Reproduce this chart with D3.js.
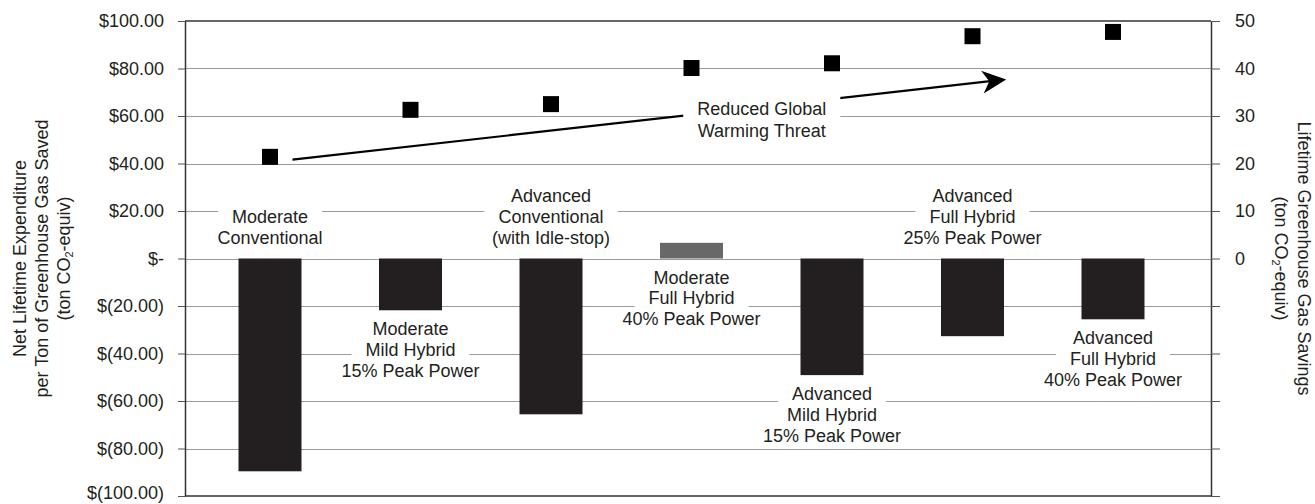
<!DOCTYPE html>
<html>
<head>
<meta charset="utf-8">
<script src="https://cdn.jsdelivr.net/npm/d3@7"></script>
<style>
  html, body { margin: 0; padding: 0; background: #fff; }
  svg { display: block; font-family: "Liberation Sans", Arial, Helvetica, sans-serif; }
</style>
</head>
<body>
<svg id="chart" width="1315" height="504"></svg>
<script>
// Vehicle technology options
const categories = [
  "Moderate Conventional",
  "Moderate Mild Hybrid 15%",
  "Advanced Conventional (Idle-stop)",
  "Moderate Full Hybrid 40%",
  "Advanced Mild Hybrid 15%",
  "Advanced Full Hybrid 25%",
  "Advanced Full Hybrid 40%"
];
const categoryLabelLines = [
  ["Moderate", "Conventional"],
  ["Moderate", "Mild Hybrid", "15% Peak Power"],
  ["Advanced", "Conventional", "(with Idle-stop)"],
  ["Moderate", "Full Hybrid", "40% Peak Power"],
  ["Advanced", "Mild Hybrid", "15% Peak Power"],
  ["Advanced", "Full Hybrid", "25% Peak Power"],
  ["Advanced", "Full Hybrid", "40% Peak Power"]
];
const categoryLabelSide = ["above", "below", "above", "below", "below", "above", "below"];

// Net lifetime expenditure per ton of greenhouse gas saved ($/ton CO2-equiv), bars, left axis
const netExpenditure = [-89.6, -21.8, -65.6, 6.6, -49.1, -32.7, -25.6];
// Lifetime greenhouse gas savings (ton CO2-equiv), square markers, right axis
const ghgSavings = [21.4, 31.3, 32.5, 40.1, 41.1, 46.8, 47.7];

// Axis ticks
const leftTickValues = [-100, -80, -60, -40, -20, 0, 20, 40, 60, 80, 100];
const leftTickLabels = ["$(100.00)", "$(80.00)", "$(60.00)", "$(40.00)", "$(20.00)", "$-",
                        "$20.00", "$40.00", "$60.00", "$80.00", "$100.00"];
const rightTickValues = [-50, -40, -30, -20, -10, 0, 10, 20, 30, 40, 50];
const rightTickLabels = ["", "", "", "", "", "0", "10", "20", "30", "40", "50"];

// Trend annotation
const trendText = ["Reduced Global", "Warming Threat"];
const trendFrom = [0.16, 20.8];   // [category position, savings]
const trendTo = [5.24, 37.7];
const trendTextAt = [3.5, 30];

const svg = d3.select("#chart");
const M = { left: 185, right: 1211, top: 21, bottom: 496 };
const FONT = 18;
const INK = "#231f20";

const x = d3.scalePoint().domain(categories).range([270, 1113]);
const xPos = d3.scaleLinear().domain([0, categories.length - 1]).range(x.range());
const yL = d3.scaleLinear().domain([-100, 100]).range([M.bottom, M.top]);
const yR = d3.scaleLinear().domain([-50, 50]).range([M.bottom, M.top]);
const barW = 63;

// Gridlines
svg.append("g").selectAll("line")
  .data(leftTickValues.filter(v => v > -100 && v < 100))
  .join("line")
  .attr("x1", M.left).attr("x2", M.right)
  .attr("y1", d => Math.round(yL(d)) + 0.5).attr("y2", d => Math.round(yL(d)) + 0.5)
  .attr("stroke", "#9b9b9b").attr("stroke-width", 1.2);

// Category labels with white backing on each line
const lineH = 20.8;
const labelG = svg.append("g");
categories.forEach((c, i) => {
  const lines = categoryLabelLines[i];
  const cx = x(c);
  let firstBase;
  if (categoryLabelSide[i] === "above") {
    firstBase = yL(0) - 15 - (lines.length - 1) * lineH;
  } else {
    firstBase = yL(Math.min(0, netExpenditure[i])) + 25;
  }
  lines.forEach((t, j) => {
    const base = firstBase + j * lineH;
    const rect = labelG.append("rect").attr("fill", "#fff");
    const txt = labelG.append("text")
      .attr("x", cx).attr("y", base)
      .attr("text-anchor", "middle")
      .attr("font-size", FONT).attr("fill", INK)
      .text(t);
    const w = txt.node().getComputedTextLength();
    rect.attr("x", cx - w / 2 - 14).attr("width", w + 28)
      .attr("y", base - 14).attr("height", 19);
  });
});

// Bars
svg.append("g").selectAll("rect")
  .data(netExpenditure)
  .join("rect")
  .attr("x", (d, i) => x(categories[i]) - barW / 2)
  .attr("width", barW)
  .attr("y", d => yL(Math.max(0, d)))
  .attr("height", d => Math.abs(yL(d) - yL(0)))
  .attr("fill", d => d > 0 ? "#686868" : INK);

// Frame: top and bottom edges
[M.top, M.bottom].forEach(yy => {
  svg.append("line").attr("x1", M.left).attr("x2", M.right)
    .attr("y1", yy).attr("y2", yy)
    .attr("stroke", "#333").attr("stroke-width", 1.5);
});

// Left axis
const axL = svg.append("g").attr("transform", `translate(${M.left},0)`)
  .call(d3.axisLeft(yL).tickValues(leftTickValues)
    .tickFormat((d, i) => leftTickLabels[i]).tickSize(7).tickPadding(14).tickSizeOuter(0));
// Right axis
const axR = svg.append("g").attr("transform", `translate(${M.right},0)`)
  .call(d3.axisRight(yR).tickValues(rightTickValues)
    .tickFormat((d, i) => rightTickLabels[i]).tickSize(9).tickPadding(15).tickSizeOuter(0));
[axL, axR].forEach(ax => {
  ax.attr("font-family", null).attr("font-size", null);
  ax.select(".domain").attr("stroke", "#333").attr("stroke-width", 1.5);
  ax.selectAll(".tick line").attr("stroke", "#555").attr("stroke-width", 1);
  ax.selectAll(".tick text").attr("font-size", FONT).attr("fill", INK);
});
// keep the lowest left label inside the canvas
axL.selectAll(".tick text").filter(d => d === -100).attr("dy", "0.12em");

// Trend arrow line
const ax0 = xPos(trendFrom[0]), ay0 = yR(trendFrom[1]);
const ax1 = xPos(trendTo[0]), ay1 = yR(trendTo[1]);
const ang = Math.atan2(ay1 - ay0, ax1 - ax0);
svg.append("line")
  .attr("x1", ax0).attr("y1", ay0)
  .attr("x2", ax1 - 16 * Math.cos(ang)).attr("y2", ay1 - 16 * Math.sin(ang))
  .attr("stroke", "#000").attr("stroke-width", 2.2);

// Trend annotation text on a white box
const tx = xPos(trendTextAt[0]);
const tBase = yR(trendTextAt[1]) - 1;
const tg = svg.append("g");
const tRect = tg.append("rect").attr("fill", "#fff");
let tW = 0;
trendText.forEach((t, j) => {
  const te = tg.append("text").attr("x", tx).attr("y", tBase + j * 21.5)
    .attr("text-anchor", "middle").attr("font-size", FONT).attr("fill", INK).text(t);
  tW = Math.max(tW, te.node().getComputedTextLength());
});
tRect.attr("x", tx - tW / 2 - 14).attr("width", tW + 28)
  .attr("y", tBase - 18).attr("height", 46);

// Arrowhead
svg.append("path")
  .attr("d", "M0,0 L-24,-11.5 L-17,0 L-24,11.5 Z")
  .attr("transform", `translate(${ax1},${ay1}) rotate(${ang * 180 / Math.PI})`)
  .attr("fill", "#000");

// Savings markers
const mk = 16;
svg.append("g").selectAll("rect")
  .data(ghgSavings)
  .join("rect")
  .attr("x", (d, i) => x(categories[i]) - mk / 2)
  .attr("y", d => yR(d) - mk / 2)
  .attr("width", mk).attr("height", mk)
  .attr("fill", "#000");

// Axis titles
function titleLine(g, y, parts) {
  const t = g.append("text").attr("x", 0).attr("y", y)
    .attr("text-anchor", "middle").attr("font-size", FONT).attr("fill", INK);
  parts.forEach(p => {
    const s = t.append("tspan").text(p.t);
    if (p.sub) s.attr("font-size", 11).attr("dy", 3);
    if (p.after) s.attr("dy", -3);
  });
}
const leftTitle = svg.append("g").attr("transform", `translate(0,${(M.top + M.bottom) / 2}) rotate(-90)`);
titleLine(leftTitle, 26, [{ t: "Net Lifetime Expenditure" }]);
titleLine(leftTitle, 48, [{ t: "per Ton of Greenhouse Gas Saved" }]);
titleLine(leftTitle, 70, [{ t: "(ton CO" }, { t: "2", sub: true }, { t: "-equiv)", after: true }]);

const rightTitle = svg.append("g").attr("transform", `translate(1298,${(M.top + M.bottom) / 2}) rotate(90)`);
titleLine(rightTitle, 0, [{ t: "Lifetime Greenhouse Gas Savings" }]);
titleLine(rightTitle, 23, [{ t: "(ton CO" }, { t: "2", sub: true }, { t: "-equiv)", after: true }]);
</script>
</body>
</html>
